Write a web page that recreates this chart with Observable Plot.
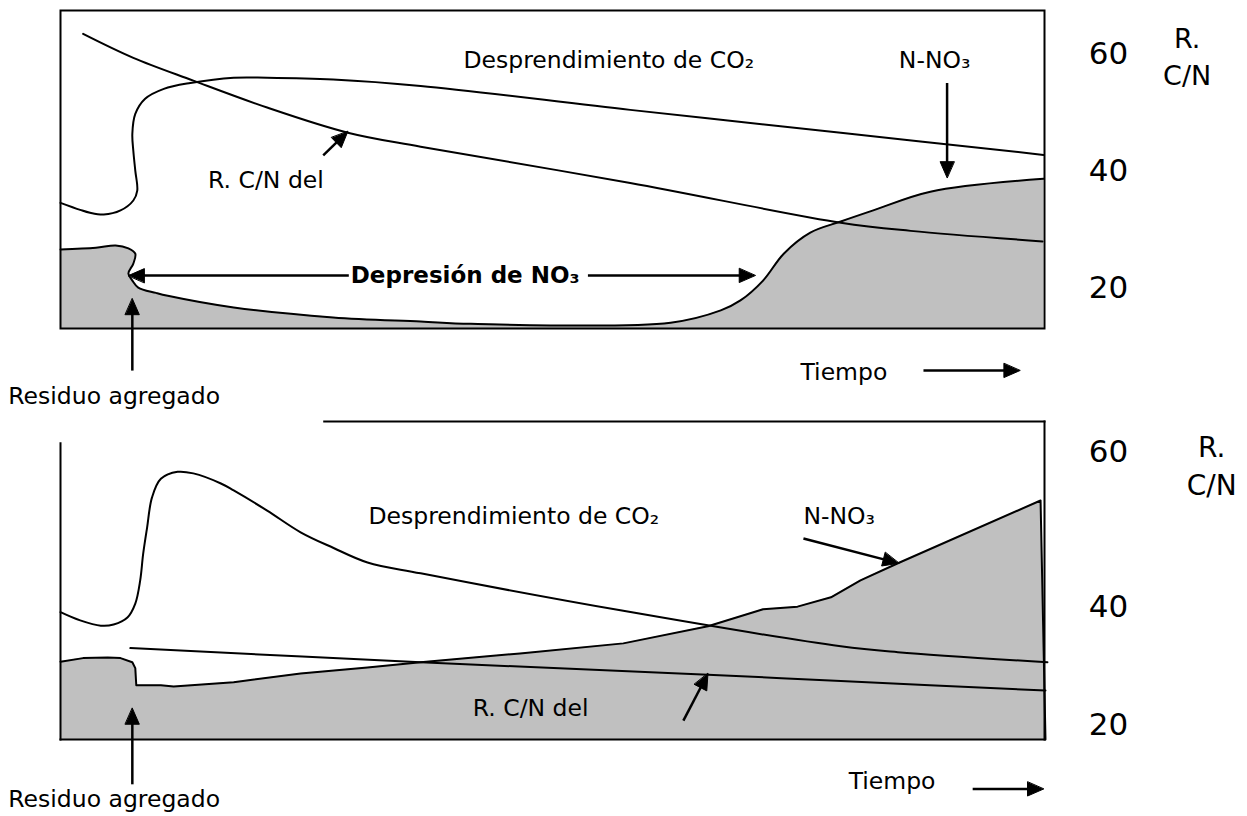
<!DOCTYPE html>
<html>
<head>
<meta charset="utf-8">
<script src="https://cdn.jsdelivr.net/npm/d3@7"></script>
<script src="https://cdn.jsdelivr.net/npm/@observablehq/plot@0.6"></script>
<style>
  html, body { margin: 0; padding: 0; background: #fff; }
  #chart svg { display: block; }
</style>
</head>
<body>
<div id="chart"></div>
<script>
// ---------------- DATA (time 0–100 across the frame, values on the R. C/N scale) ----------------
const tickLabels = [60, 40, 20];
const axisTitle = ["R.", "C/N"];

// Top panel: [time, value]
const topCO2 = [[0,34.5],[2.0,33.3],[3.0,32.8],[4.4,32.5],[6.1,33.2],[7.4,34.9],[7.8,36.6],[7.6,40.0],[7.4,43.4],[7.3,46.3],[7.6,49.7],[8.6,52.3],[10.5,54.0],[13.2,55.0],[17.6,55.9],[21.0,55.9],[27.7,55.6],[36.6,54.5],[57.9,50.4],[79.3,46.5],[99.9,42.7]];
const topCN = [[2.3,63.4],[7.4,59.3],[13.5,55.4],[21.0,50.8],[29.2,46.5],[36.6,44.1],[57.9,37.9],[79.3,31.1],[86.4,29.7],[99.8,27.9]];
const topNO3 = [[0,26.5],[3.6,26.8],[5.6,27.2],[6.9,26.7],[7.6,25.8],[7.4,24.1],[6.9,22.4],[7.3,21.2],[7.9,20.0],[9.7,19.1],[10.9,18.6],[17.6,16.6],[27.7,14.9],[36.6,14.2],[41.7,13.8],[62.0,14.0],[67.1,16.1],[69.1,17.8],[71.4,21.2],[73.5,25.8],[76.2,29.4],[79.3,31.3],[82.6,33.2],[88.4,36.4],[99.9,38.6]];
const topArrows = [ // [x1, y1, x2(head), y2(head)]
  [7.3, 5.8, 7.3, 18.1],
  [26.7, 42.6, 29.2, 46.7],
  [90.1, 55.0, 90.1, 38.8],
  [29.3, 22.05, 6.9, 22.05],
  [53.6, 22.05, 70.6, 22.05],
  [87.7, 5.8, 97.5, 5.8]
];
const topLabels = [
  {text: "Desprendimiento de CO₂", x: 40.95, y: 58.9},
  {text: "N-NO₃", x: 85.2, y: 58.9},
  {text: "R. C/N del", x: 15.0, y: 38.3},
  {text: "Tiempo", x: 75.2, y: 5.5},
  {text: "Residuo agregado", x: -5.3, y: 1.4}
];
const topBold = [{text: "Depresión de NO₃", x: 29.5, y: 22.0}];
const topTitlePos = [{x: 114.5, y: 62.4}, {x: 114.5, y: 56.2}];
const topFrame = [13.0, 67.4];

// Bottom panel: [time, value]
const botCO2 = [[0,39.2],[2.0,37.8],[4.1,36.9],[5.4,37.1],[6.8,38.3],[7.6,40.5],[8.1,43.5],[8.4,46.9],[8.8,50.3],[9.3,54.2],[10.2,56.6],[11.9,57.5],[13.5,57.3],[16.3,56.0],[17.6,55.1],[21.0,52.5],[24.4,49.7],[27.7,47.7],[31.2,45.8],[36.6,44.4],[56.9,39.5],[79.3,33.4],[85.1,32.4],[100.3,30.7]];
const botCN = [[7.1,33.1],[36.6,30.7],[65.8,28.6],[79.3,27.5],[100.1,25.9]];
const botNO3 = [[0,30.8],[2.3,31.4],[4.8,31.5],[6.1,31.4],[7.3,30.7],[7.6,29.7],[7.7,26.8],[10.2,26.8],[11.5,26.6],[17.6,27.3],[24.4,28.8],[31.2,29.8],[36.6,30.7],[46.7,32.2],[57.2,33.9],[65.8,36.8],[71.4,39.7],[74.9,40.1],[78.3,41.3],[81.3,43.5],[85.1,45.7],[99.6,53.8],[100.1,17.6]];
const botArrows = [
  [7.3, 10.0, 7.3, 22.9],
  [63.3, 20.8, 65.8, 28.8],
  [75.5, 48.9, 85.2, 45.7],
  [92.7, 9.2, 99.9, 9.2]
];
const botLabels = [
  {text: "Desprendimiento de CO₂", x: 31.3, y: 51.7},
  {text: "N-NO₃", x: 75.5, y: 51.7},
  {text: "R. C/N del", x: 41.9, y: 22.8},
  {text: "Tiempo", x: 80.1, y: 10.5},
  {text: "Residuo agregado", x: -5.3, y: 7.5}
];
const botTitlePos = [{x: 117.0, y: 60.6}, {x: 117.0, y: 55.7}];
// bottom frame extents (value units): the top line starts part-way in
const botFrameTop = 64.0, botFrameBottom = 17.6, botLeftTop = 61.2, botTopStart = 26.8;
// the bottom panel's value axis is stretched above 40 (uneven tick spacing)
const botStretch = 7.75 / 5.9;

// ---------------- SCALES ----------------
const FONT = "DejaVu Sans";
const X = d3.scaleLinear([0, 100], [60, 1044]);
const topY = d3.scaleLinear(topFrame, [328, 10]);
const warp = v => (v <= 40 ? v : 40 + (v - 40) * botStretch);
const botWarpDomain = [warp(botFrameBottom), warp(botFrameTop)];
const botYlin = d3.scaleLinear(botWarpDomain, [327, 9]);
const botY = Object.assign(v => botYlin(warp(v)), {
  invert: p => { const w = botYlin.invert(p); return w <= 40 ? w : 40 + (w - 40) / botStretch; }
});
const fx = d => d[0], fy = d => d[1];

function arrowMarks(arrows, Y) {
  const shafts = [], heads = [];
  arrows.forEach(([x1, y1, x2, y2], i) => {
    const ax = X(x1), ay = Y(y1), bx = X(x2), by = Y(y2);
    const len = Math.hypot(bx - ax, by - ay);
    const ux = (bx - ax) / len, uy = (by - ay) / len;
    const L = 16, W = 7;
    const cx = bx - ux * L, cy = by - uy * L;
    [[bx, by], [cx - uy * W, cy + ux * W], [cx + uy * W, cy - ux * W]]
      .forEach(([u, v]) => heads.push({id: i, x: X.invert(u), y: Y.invert(v)}));
    shafts.push({x1, y1, x2: X.invert(bx - ux * L * 0.6), y2: Y.invert(by - uy * L * 0.6)});
  });
  return [
    Plot.link(shafts, {x1: "x1", y1: "y1", x2: "x2", y2: "y2", stroke: "black", strokeWidth: 2.5}),
    Plot.line(heads, {x: "x", y: "y", z: "id", fill: "black", stroke: "black", strokeWidth: 1, curve: "linear-closed"})
  ];
}

function textMarks(labels, bold, titlePos, titleSize) {
  return [
    Plot.text(labels, {x: "x", y: "y", text: "text", textAnchor: "start", fontSize: 23.5, fill: "black", fontFamily: FONT}),
    Plot.text(bold, {x: "x", y: "y", text: "text", textAnchor: "start", fontSize: 23, fontWeight: "bold", fill: "black", fontFamily: FONT}),
    Plot.text(tickLabels, {x: () => 106.5, y: d => d, text: d => String(d), textAnchor: "middle", fontSize: 31, fill: "black", fontFamily: FONT}),
    Plot.text(titlePos, {x: "x", y: "y", text: (d, i) => axisTitle[i], textAnchor: "middle", fontSize: titleSize, fill: "black", fontFamily: FONT})
  ];
}

const topPlot = Plot.plot({
  width: 1247, height: 412,
  marginTop: 10, marginBottom: 84, marginLeft: 60, marginRight: 203,
  x: {domain: X.domain(), axis: null},
  y: {domain: topFrame, axis: null},
  style: {background: "white", fontFamily: FONT},
  marks: [
    Plot.area(topNO3, {x1: fx, y1: () => topFrame[0], y2: fy, fill: "#c0c0c0", curve: "catmull-rom"}),
    Plot.line(topNO3, {x: fx, y: fy, stroke: "black", strokeWidth: 2, curve: "catmull-rom"}),
    Plot.line(topCO2, {x: fx, y: fy, stroke: "black", strokeWidth: 2, curve: "catmull-rom"}),
    Plot.line(topCN, {x: fx, y: fy, stroke: "black", strokeWidth: 2, curve: "catmull-rom"}),
    Plot.frame({stroke: "black", strokeWidth: 2}),
    ...arrowMarks(topArrows, topY),
    ...textMarks(topLabels, topBold, topTitlePos, 27)
  ]
});

const botFrame = [
  [botTopStart, botFrameTop, 100, botFrameTop],
  [0, botLeftTop, 0, botFrameBottom],
  [0, botFrameBottom, 100, botFrameBottom],
  [100, botFrameBottom, 100, botFrameTop]
];

const botPlot = Plot.plot({
  width: 1247, height: 404,
  marginTop: 9, marginBottom: 77, marginLeft: 60, marginRight: 203,
  x: {domain: X.domain(), axis: null},
  y: {transform: warp, domain: botWarpDomain, axis: null},
  style: {background: "white", fontFamily: FONT},
  marks: [
    Plot.area(botNO3, {x1: fx, y1: () => botFrameBottom, y2: fy, fill: "#c0c0c0"}),
    Plot.line(botNO3, {x: fx, y: fy, stroke: "black", strokeWidth: 2}),
    Plot.line(botCO2, {x: fx, y: fy, stroke: "black", strokeWidth: 2, curve: "catmull-rom"}),
    Plot.line(botCN, {x: fx, y: fy, stroke: "black", strokeWidth: 2, curve: "catmull-rom"}),
    Plot.link(botFrame, {x1: d => d[0], y1: d => d[1], x2: d => d[2], y2: d => d[3], stroke: "black", strokeWidth: 2, strokeLinecap: "square"}),
    ...arrowMarks(botArrows, botY),
    ...textMarks(botLabels, [], botTitlePos, 28)
  ]
});

const chart = document.getElementById("chart");
chart.appendChild(topPlot);
chart.appendChild(botPlot);
</script>
</body>
</html>
